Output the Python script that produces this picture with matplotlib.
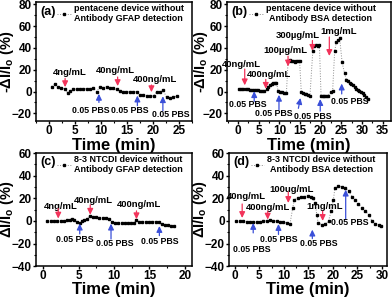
import matplotlib.pyplot as plt
from matplotlib.ticker import MultipleLocator

plt.rcParams['font.family'] = 'Liberation Sans'
plt.rcParams['font.weight'] = 'bold'
plt.rcParams['axes.labelweight'] = 'bold'
plt.rcParams['mathtext.fontset'] = 'custom'
plt.rcParams['mathtext.rm'] = 'Liberation Sans:bold'
plt.rcParams['mathtext.it'] = 'Liberation Sans:bold'
plt.rcParams['mathtext.bf'] = 'Liberation Sans:bold'
plt.rcParams['axes.linewidth'] = 1.1

RED = '#f2335a'
BLUE = '#3a4fd8'

# (a) pentacene, GFAP
ta = [0.5, 1.15, 1.8, 2.4, 3.1, 3.6, 4.0, 4.7, 5.3, 6.0,
      6.6, 7.3, 7.9, 8.5, 9.2, 9.8, 10.4, 11.1, 11.7, 12.4,
      13.0, 13.7, 14.3, 14.9, 15.6, 16.2, 16.9, 17.5, 18.1, 18.8,
      19.4, 20.1, 20.7, 21.3, 22.0, 22.6, 23.3, 23.9, 24.6]
va = [4.6, 6.5, 4.6, 3.1, 2.5, -1.5, 0.3, 1.9, 2.5, 2.5,
      2.5, 2.5, 1.9, 3.1, 0.0, 4.6, 3.4, 4.6, 3.4, 2.8,
      1.9, 0.3, -0.6, 0.0, -0.6, -0.6, 0.0, -3.1, -3.1, -3.7,
      -3.7, -4.3, 0.0, -0.6, 1.0, -5.2, -6.2, -5.2, -4.3]

# (b) pentacene, BSA
tb = [0.3, 0.8, 1.3, 1.8, 2.3, 2.8, 3.3, 3.8, 4.3, 4.8,
      5.3, 5.8, 6.3, 6.9, 7.3, 7.7, 8.1, 8.5, 8.9, 9.3,
      9.7, 10.2, 10.7, 11.2, 11.7, 12.1, 12.5, 12.9, 13.3, 13.7,
      14.1, 14.5, 14.9, 15.3, 15.7, 16.1, 16.5, 17.0, 17.4, 18.1,
      18.5, 18.9, 19.3, 19.7, 20.1, 20.5, 20.9, 21.3, 21.7, 22.5,
      22.9, 23.4, 23.8, 24.2, 24.6, 25.2, 25.8, 26.2, 26.6, 27.0,
      27.4, 27.8, 28.2, 28.6, 29.0, 29.4, 29.8, 30.2, 30.6, 31.0,
      31.4]
vb = [2.4, 2.3, 2.2, 2.0, 1.9, 1.8, 1.6, 1.4, 1.2, 1.0,
      0.8, 0.6, 0.3, 2.4, 4.0, 5.6, 7.1, 7.7, 8.0, 8.0,
      0.3, -0.2, -0.6, -1.0, -1.6, 27.8, 28.5, 28.2, 28.0, 27.5,
      28.3, 27.8, 27.9, -0.2, -1.2, -2.0, -2.7, -3.3, -4.3, 37.3,
      42.0, 42.7, 42.0, 42.5, -4.3, -4.0, -4.1, -4.2, -4.0, -0.2,
      0.6, 37.3, 45.0, 47.6, 48.9, 26.7, 16.6, 11.0, 9.5, 7.8,
      6.5, 5.6, 4.0, 2.4, 1.3, 0.3, -0.6, -1.6, -3.0, -4.7,
      -6.9]

# (c) 8-3 NTCDI, GFAP
tc = [0.61, 1.07, 1.54, 2.0, 2.47, 2.93, 3.4, 3.77, 4.1, 4.42,
      4.79, 5.17, 5.49, 5.82, 6.19, 6.56, 7.02, 7.49, 7.95, 8.42,
      8.88, 9.35, 9.72, 10.14, 10.6, 11.07, 11.53, 12.0, 12.46, 12.84,
      13.16, 13.53, 14.0, 14.46, 14.93, 15.39, 15.86, 16.33, 16.7, 17.16,
      17.63, 18.1, 18.47]
vc = [0.0, 0.0, 0.0, 0.0, 0.0, 0.0, 0.6, 1.2, 1.8, 0.6,
      -0.6, -1.8, 0.0, 0.6, 1.8, 4.5, 3.9, 3.3, 3.0, 3.0,
      2.4, 2.1, -0.6, -1.8, -1.8, -1.8, -1.8, -1.8, -1.8, -1.5,
      0.6, -0.6, -0.6, -0.6, -0.6, -0.6, -0.6, -1.2, -3.0, -3.6,
      -3.9, -4.2, -4.5]

# (d) 8-3 NTCDI, BSA
td = [0.34, 1.02, 1.7, 2.39, 3.07, 3.75, 4.43, 5.11, 5.8, 6.48,
      7.16, 7.84, 8.52, 9.2, 9.88, 10.57, 11.25, 11.8, 12.14, 12.8,
      13.5, 14.2, 14.9, 15.5, 16.0, 16.4, 16.7, 17.0, 17.7, 18.4,
      19.1, 19.6, 20.1, 20.4, 21.1, 21.8, 22.5, 23.2, 23.9, 24.5,
      25.2, 25.9, 26.6, 27.3, 28.0, 28.6, 29.3, 29.7]
vd = [-0.3, -0.3, -0.3, -0.6, -0.9, -1.2, -1.2, -0.9, -0.3, 0.3,
      0.9, 0.3, -0.3, -0.9, -1.2, -1.8, -2.5, 11.5, 18.9, 20.3,
      20.9, 21.5, 22.4, 21.5, 20.3, 15.9, 5.6, -1.8, -3.3, -2.7,
      -0.3, 8.5, 18.9, 29.2, 30.6, 30.4, 29.2, 26.2, 21.5, 18.9,
      15.0, 11.5, 8.6, 5.6, -0.3, -2.7, -3.3, -4.2]

# annotations: concentration labels, red arrows (x, tail, head), PBS arrows (x0, y0, x1, y1)
conc_a = [('4ng/mL', 4.0, 17.0), ('40ng/mL', 12.7, 19.0), ('400ng/mL', 20.4, 10.8)]
red_a = [(3.1, 12.0, 4.0), (13.2, 13.3, 5.0), (19.7, 6.0, -0.6)]
blue_a = [(9.6, -10.0, 9.6, -2.1), (17.0, -13.0, 17.0, -3.7), (21.9, -17.6, 21.9, -4.3)]
pbs_a = [(8.1, -17.0), (15.6, -17.6), (23.4, -21.0)]

conc_b = [('40ng/mL', 0.8, 24.6), ('400ng/mL', 7.5, 15.2), ('100\u00b5g/mL', 11.5, 37.9),
          ('300\u00b5g/mL', 14.5, 51.5), ('1mg/mL', 24.4, 55.3)]
red_b = [(1.6, 20.6, 5.7), (6.7, 11.1, 2.5), (12.1, 32.4, 23.0), (18.0, 46.8, 37.3), (22.1, 50.0, 32.6)]
blue_b = [(3.9, -9.1, 3.9, 0.3), (9.9, -16.6, 9.9, -3.0), (14.6, -15.4, 15.1, -5.9),
          (19.9, -18.0, 19.9, -6.9), (25.1, -2.2, 25.1, 7.3)]
pbs_b = [(2.4, -11.7), (8.6, -19.9), (18.1, -22.8), (27.0, -9.5)]

conc_c = [('4ng/mL', 2.56, 12.5), ('40ng/mL', 7.1, 18.4), ('400ng/mL', 13.5, 14.2)]
red_c = [(2.14, 11.0, 2.1), (6.65, 14.2, 5.5), (13.17, 8.9, 1.5)]
blue_c = [(5.17, -11.5, 5.17, -2.4), (9.58, -16.0, 9.58, -2.4), (16.4, -13.0, 16.4, -4.5)]
pbs_c = [(4.42, -16.0), (10.14, -20.0), (16.4, -18.4)]

conc_d = [('40ng/mL', 2.4, 21.2), ('400ng/mL', 6.7, 12.1), ('100ug/mL', 11.6, 27.7), ('1mg/mL', 18.4, 12.9)]
red_d = [(1.5, 15.0, 2.6), (6.7, 8.6, 1.2), (10.9, 25.6, 15.9), (17.9, 8.6, 0.0)]
blue_d = [(3.75, -10.6, 3.75, -1.8), (8.9, -12.0, 8.9, -2.7), (15.8, -15.6, 15.8, -7.7), (22.6, 1.2, 22.6, 27.7)]
pbs_d = [(3.4, -25.4), (8.9, -16.5), (17.2, -20.0), (23.5, -1.8)]


def arrow(ax, x0, y0, x1, y1, color):
    ax.annotate('', xy=(x1, y1), xytext=(x0, y0),
                arrowprops=dict(arrowstyle='-|>,head_length=0.35,head_width=0.17',
                                color=color, lw=0.9, shrinkA=0, shrinkB=0))


def panel(rect, t, v, tag, device, xlim, ylim, xmax, ylo, yhi, ylabel, ylab_x,
          conc, reds, blues, pbs):
    ax = fig.add_axes(rect)
    ax.plot(t, v, ls=':', color='0.55', lw=0.7, marker='s', ms=2.0,
            mfc='black', mec='black', label=device)
    ax.set_xlim(*xlim)
    ax.set_ylim(*ylim)
    ax.set_xticks(range(0, xmax + 1, 5))
    ax.set_yticks(range(ylo, yhi + 1, 20))
    ax.xaxis.set_minor_locator(MultipleLocator(2.5))
    ax.yaxis.set_minor_locator(MultipleLocator(10))
    ax.tick_params(which='major', direction='out', length=2.5, width=1,
                   labelsize=8.5, pad=0.5)
    ax.tick_params(which='minor', direction='out', length=1.5, width=0.8)
    ax.set_xlabel('Time (min)', fontsize=12)
    ax.xaxis.set_label_coords(0.5, -0.14)
    ax.set_ylabel(ylabel, fontsize=10.5)
    ax.yaxis.set_label_coords(ylab_x, 0.5)
    for txt, x, y in conc:
        ax.text(x, y, txt, fontsize=6.8, ha='center', va='center')
    for x, y0, y1 in reds:
        arrow(ax, x, y0, x, y1, RED)
    for x0, y0, x1, y1 in blues:
        arrow(ax, x0, y0, x1, y1, BLUE)
    for x, y in pbs:
        ax.text(x, y, '0.05 PBS', fontsize=6.3, ha='center', va='center')
    ax.text(0.025, 0.92, tag, transform=ax.transAxes, fontsize=9,
            ha='left', va='center')
    leg = ax.legend(loc='upper left', bbox_to_anchor=(0.12, 1.01), frameon=False,
                    fontsize=6.5, handlelength=1.5, handletextpad=0.3,
                    borderaxespad=0, borderpad=0.3, labelspacing=0)
    for lt in leg.get_texts():
        lt.set_multialignment('center')
    return ax


fig = plt.figure(figsize=(3.92, 2.98), dpi=100)

panel([0.0918, 0.594, 0.398, 0.399], ta, va, '(a)',
      'pentacene device without\nAntibody GFAP detection',
      (-2.5, 27.5), (-27, 82), 25, -20, 80, r'-ΔI/I$_\mathbf{o}$ (%)', -0.13,
      conc_a, red_a, blue_a, pbs_a)
panel([0.579, 0.594, 0.418, 0.399], tb, vb, '(b)',
      'pentacene device without\nAntibody BSA detection',
      (-2.7, 37), (-27, 82), 35, -20, 80, r'-ΔI/I$_\mathbf{o}$ (%)', -0.105,
      conc_b, red_b, blue_b, pbs_b)
panel([0.0918, 0.107, 0.398, 0.379], tc, vc, '(c)',
      '8-3 NTCDI device without\nAntibody GFAP detection',
      (-1, 21), (-40, 60), 20, -40, 60, r'ΔI/I$_\mathbf{o}$ (%)', -0.13,
      conc_c, red_c, blue_c, pbs_c)
panel([0.584, 0.107, 0.403, 0.379], td, vd, '(d)',
      '8-3 NTCDI device without\nAntibody BSA detection',
      (-1.2, 31), (-40, 60), 30, -40, 60, r'ΔI/I$_\mathbf{o}$ (%)', -0.125,
      conc_d, red_d, blue_d, pbs_d)

fig.savefig('out.png', dpi=100)
